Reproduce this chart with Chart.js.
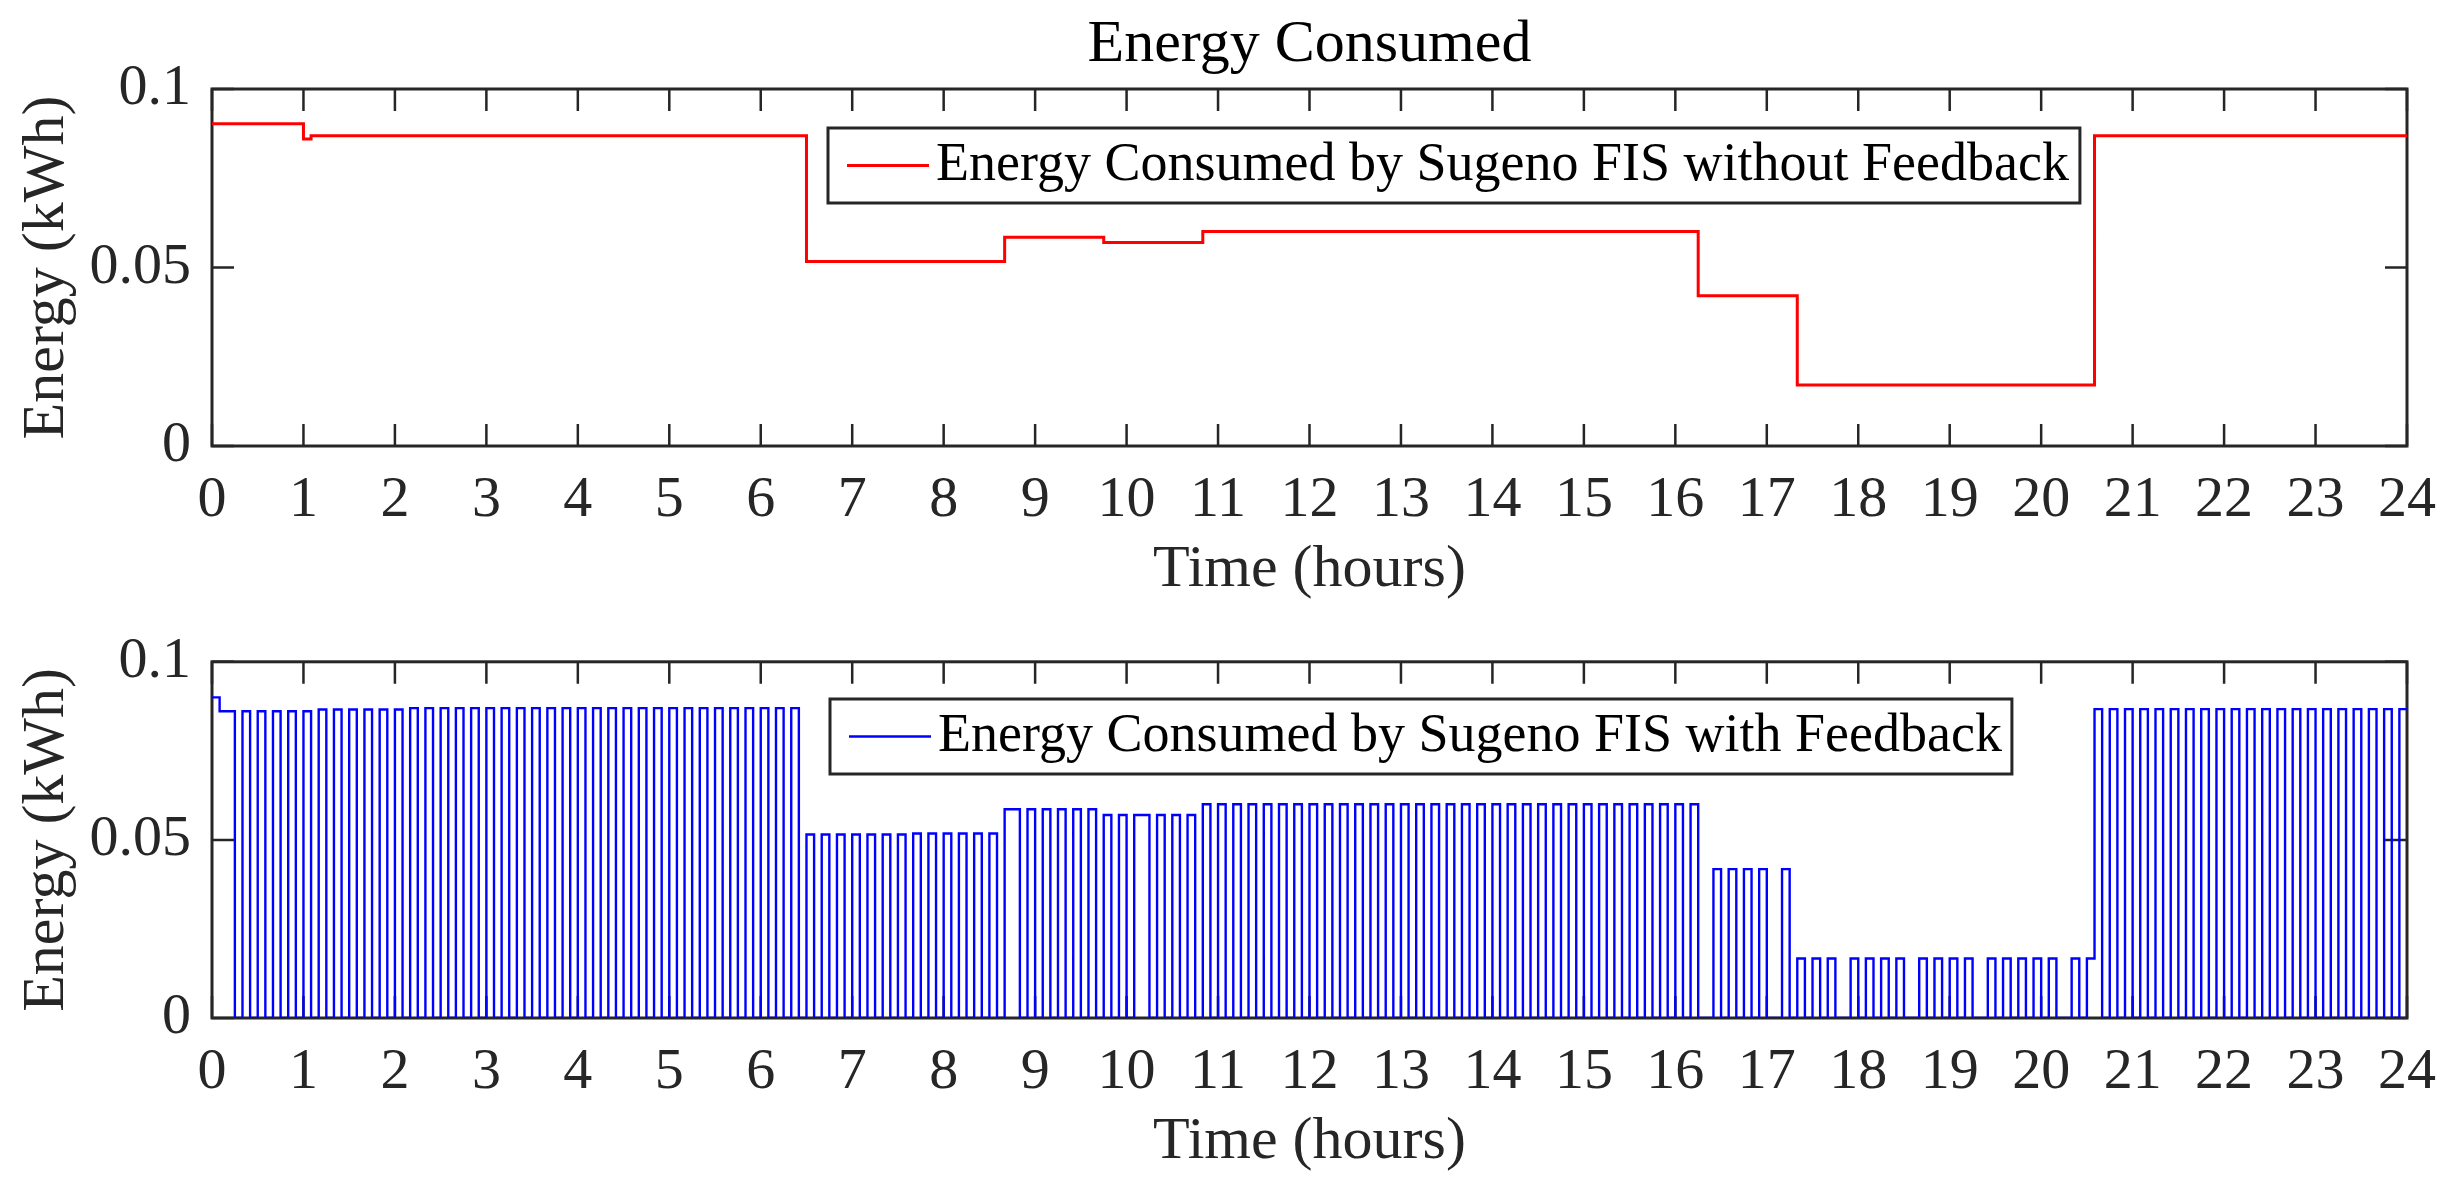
<!DOCTYPE html>
<html>
<head>
<meta charset="utf-8">
<title>Energy Consumed</title>
<script src="https://cdn.jsdelivr.net/npm/chart.js@4.4.1/dist/chart.umd.min.js"></script>
<style>
  html, body { margin: 0; padding: 0; background: #fff; overflow: hidden; }
  canvas { position: absolute; left: 0; }
  #top { top: 0; }
  #bottom { top: 606px; }
</style>
</head>
<body>
<canvas id="top" width="2459" height="606"></canvas>
<canvas id="bottom" width="2459" height="598"></canvas>
<script>
// ---- data ----
var xTicks = [0, 1, 2, 3, 4, 5, 6, 7, 8, 9, 10, 11, 12, 13, 14, 15, 16, 17, 18, 19, 20, 21, 22, 23, 24];
var yTicks = [0, 0.05, 0.1];
var yTickLabels = ['0', '0.05', '0.1'];

// top panel: time (hours) where the level changes, and the level from there on
var topHours  = [0, 1, 1.0833, 6.5, 8.6667, 9.75, 10.8333, 16.25, 17.3333, 20.5833, 24];
var topEnergy = [0.0903, 0.0860, 0.0869, 0.0517, 0.0585, 0.0570, 0.0601, 0.0421, 0.0171, 0.0869, 0.0869];

// bottom panel: one value per 5 minute slot, one row per hour
var slotHours = 5 / 60;
var bottomEnergy = [
  0.0900, 0.0861, 0.0861, 0, 0.0861, 0, 0.0861, 0, 0.0861, 0, 0.0861, 0,
  0.0861, 0, 0.0866, 0, 0.0866, 0, 0.0866, 0, 0.0866, 0, 0.0866, 0,
  0.0866, 0, 0.0870, 0, 0.0870, 0, 0.0870, 0, 0.0870, 0, 0.0870, 0,
  0.0870, 0, 0.0870, 0, 0.0870, 0, 0.0870, 0, 0.0870, 0, 0.0870, 0,
  0.0870, 0, 0.0870, 0, 0.0870, 0, 0.0870, 0, 0.0870, 0, 0.0870, 0,
  0.0870, 0, 0.0870, 0, 0.0870, 0, 0.0870, 0, 0.0870, 0, 0.0870, 0,
  0.0870, 0, 0.0870, 0, 0.0870, 0, 0.0515, 0, 0.0515, 0, 0.0515, 0,
  0.0515, 0, 0.0515, 0, 0.0515, 0, 0.0515, 0, 0.0518, 0, 0.0518, 0,
  0.0518, 0, 0.0518, 0, 0.0518, 0, 0.0518, 0, 0.0586, 0.0586, 0, 0.0586,
  0, 0.0586, 0, 0.0586, 0, 0.0586, 0, 0.0586, 0, 0.0570, 0, 0.0570,
  0, 0.0570, 0.0570, 0, 0.0570, 0, 0.0570, 0, 0.0570, 0, 0.0600, 0,
  0.0600, 0, 0.0600, 0, 0.0600, 0, 0.0600, 0, 0.0600, 0, 0.0600, 0,
  0.0600, 0, 0.0600, 0, 0.0600, 0, 0.0600, 0, 0.0600, 0, 0.0600, 0,
  0.0600, 0, 0.0600, 0, 0.0600, 0, 0.0600, 0, 0.0600, 0, 0.0600, 0,
  0.0600, 0, 0.0600, 0, 0.0600, 0, 0.0600, 0, 0.0600, 0, 0.0600, 0,
  0.0600, 0, 0.0600, 0, 0.0600, 0, 0.0600, 0, 0.0600, 0, 0.0600, 0,
  0.0600, 0, 0.0600, 0, 0, 0.0418, 0, 0.0418, 0, 0.0418, 0, 0.0418,
  0, 0, 0.0418, 0, 0.0167, 0, 0.0167, 0, 0.0167, 0, 0, 0.0167,
  0, 0.0167, 0, 0.0167, 0, 0.0167, 0, 0, 0.0167, 0, 0.0167, 0,
  0.0167, 0, 0.0167, 0, 0, 0.0167, 0, 0.0167, 0, 0.0167, 0, 0.0167,
  0, 0.0167, 0, 0, 0.0167, 0, 0.0167, 0.0867, 0, 0.0867, 0, 0.0867,
  0, 0.0867, 0, 0.0867, 0, 0.0867, 0, 0.0867, 0, 0.0867, 0, 0.0867,
  0, 0.0867, 0, 0.0867, 0, 0.0867, 0, 0.0867, 0, 0.0867, 0, 0.0867,
  0, 0.0867, 0, 0.0867, 0, 0.0867, 0, 0.0867, 0, 0.0867, 0, 0.0867
];

var FONT = "'Liberation Serif', 'Times New Roman', serif";
var AXIS_COLOR = '#262626';
var TICK_LEN = 22;

Chart.defaults.font.family = FONT;
Chart.defaults.color = AXIS_COLOR;

// matlab style box with inward ticks on all four sides
var boxAxes = {
  id: 'boxAxes',
  beforeDatasetsDraw: function(chart) {
    var ctx = chart.ctx;
    var a = chart.chartArea;
    var x = chart.scales.x;
    var y = chart.scales.y;
    ctx.save();
    ctx.strokeStyle = AXIS_COLOR;
    ctx.lineWidth = 2.5;
    ctx.beginPath();
    x.ticks.forEach(function(t) {
      var px = x.getPixelForValue(t.value);
      ctx.moveTo(px, a.bottom); ctx.lineTo(px, a.bottom - TICK_LEN);
      ctx.moveTo(px, a.top); ctx.lineTo(px, a.top + TICK_LEN);
    });
    y.ticks.forEach(function(t) {
      var py = y.getPixelForValue(t.value);
      ctx.moveTo(a.left, py); ctx.lineTo(a.left + TICK_LEN, py);
      ctx.moveTo(a.right, py); ctx.lineTo(a.right - TICK_LEN, py);
    });
    ctx.stroke();
    ctx.lineWidth = 3;
    ctx.strokeRect(a.left, a.top, a.right - a.left, a.bottom - a.top);
    ctx.restore();
  }
};

// legend drawn as a boxed entry inside the plot
var boxLegend = {
  id: 'boxLegend',
  afterDatasetsDraw: function(chart, args, o) {
    var ds = chart.data.datasets[0];
    var ctx = chart.ctx;
    ctx.save();
    ctx.font = o.fontSize + 'px ' + FONT;
    var w = o.textOffset + ctx.measureText(ds.label).width + o.padRight;
    var cy = o.top + o.height / 2;
    ctx.fillStyle = '#fff';
    ctx.fillRect(o.left, o.top, w, o.height);
    ctx.strokeStyle = AXIS_COLOR;
    ctx.lineWidth = 3;
    ctx.strokeRect(o.left, o.top, w, o.height);
    ctx.strokeStyle = ds.borderColor;
    ctx.lineWidth = ds.borderWidth;
    ctx.beginPath();
    ctx.moveTo(o.left + 19, cy);
    ctx.lineTo(o.left + 101, cy);
    ctx.stroke();
    ctx.fillStyle = '#000';
    ctx.textBaseline = 'middle';
    ctx.textAlign = 'left';
    ctx.fillText(ds.label, o.left + o.textOffset, cy);
    ctx.restore();
  }
};

function makeChart(id, points, color, width, label, layout) {
  return new Chart(document.getElementById(id), {
    type: 'line',
    data: {
      datasets: [{
        label: label,
        data: points,
        stepped: true,
        borderColor: color,
        backgroundColor: color,
        borderWidth: width,
        borderJoinStyle: 'miter',
        pointRadius: 0,
        fill: false
      }]
    },
    plugins: [boxAxes, boxLegend],
    options: {
      responsive: false,
      animation: false,
      layout: { padding: { left: 0, right: 52, top: layout.padTop, bottom: 0 } },
      scales: {
        x: {
          type: 'linear',
          min: 0,
          max: 24,
          afterBuildTicks: function(s) { s.ticks = xTicks.map(function(v) { return { value: v }; }); },
          afterFit: function(s) { s.height = layout.xHeight; },
          ticks: { autoSkip: false, maxRotation: 0, padding: 20, font: { size: 58 }, color: AXIS_COLOR },
          grid: { display: false, drawTicks: false },
          border: { display: false },
          title: { display: true, text: 'Time (hours)', font: { size: 60 }, color: AXIS_COLOR,
                   padding: { top: 0, bottom: layout.xTitlePad } }
        },
        y: {
          min: 0,
          max: 0.1,
          afterBuildTicks: function(s) { s.ticks = yTicks.map(function(v) { return { value: v }; }); },
          afterFit: function(s) { s.width = 212; },
          ticks: {
            padding: 21, font: { size: 58 }, color: AXIS_COLOR,
            callback: function(v) { return yTickLabels[yTicks.indexOf(v)]; }
          },
          grid: { display: false, drawTicks: false },
          border: { display: false },
          title: { display: true, text: 'Energy (kWh)', font: { size: 60 }, color: AXIS_COLOR,
                   padding: { top: 11, bottom: 0 } }
        }
      },
      plugins: {
        legend: { display: false },
        tooltip: { enabled: false },
        title: layout.title,
        boxLegend: layout.legend
      }
    }
  });
}

var topPoints = topHours.map(function(h, i) { return { x: h, y: topEnergy[i] }; });
var bottomPoints = bottomEnergy.map(function(v, i) { return { x: i * slotHours, y: v }; });
bottomPoints.push({ x: 24, y: bottomEnergy[bottomEnergy.length - 1] });

makeChart('top', topPoints, '#ff0000', 3, 'Energy Consumed by Sugeno FIS without Feedback', {
  padTop: 0,
  xHeight: 160,
  xTitlePad: 0,
  title: { display: true, fullSize: false, text: 'Energy Consumed', color: '#000',
           font: { size: 60, weight: 'normal' }, padding: { top: 9, bottom: 8 } },
  legend: { left: 828, top: 128, height: 75, fontSize: 54, textOffset: 108, padRight: 11 }
});

makeChart('bottom', bottomPoints, '#0000ff', 2.4, 'Energy Consumed by Sugeno FIS with Feedback', {
  padTop: 53,
  xHeight: 186,
  xTitlePad: 26,
  title: { display: false },
  legend: { left: 830, top: 93, height: 75, fontSize: 54, textOffset: 108, padRight: 10 }
});
</script>
</body>
</html>
